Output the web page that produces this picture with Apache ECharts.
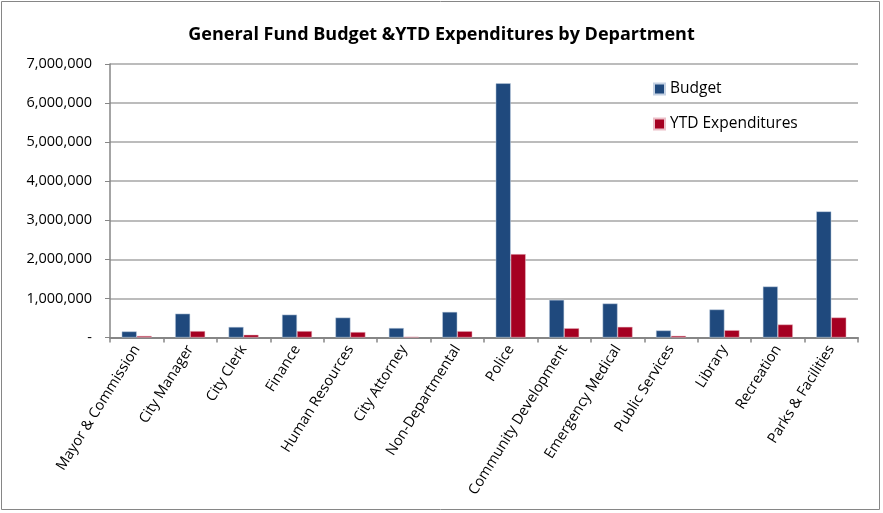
<!DOCTYPE html>
<html>
<head>
<meta charset="utf-8">
<script src="https://cdn.jsdelivr.net/npm/echarts@6/dist/echarts.min.js"></script>
<style>
html,body{margin:0;padding:0;background:#fff;}
#c{width:883px;height:513px;}
</style>
</head>
<body>
<div id="c"></div>
<script>
const categories = ["Mayor & Commission","City Manager","City Clerk","Finance","Human Resources","City Attorney","Non-Departmental","Police","Community Development","Emergency Medical","Public Services","Library","Recreation","Parks & Facilities"];
const budget = [155000, 610000, 270000, 585000, 510000, 243000, 655000, 6506000, 963000, 870000, 180000, 717000, 1305000, 3227000];
const ytdExpenditures = [40000, 165000, 70000, 165000, 140000, 20000, 162000, 2134000, 238000, 273000, 43000, 187000, 333000, 512000];
const yTicks = {min: 0, max: 7000000, interval: 1000000};

const FONT = "'Open Sans', 'Noto Sans', sans-serif";
const chart = echarts.init(document.getElementById('c'));
chart.setOption({
  animation: false,
  backgroundColor: '#fff',
  graphic: [{
    type: 'rect', shape: {x: 1.5, y: 1.5, width: 878, height: 508},
    style: {fill: 'none', stroke: '#868686', lineWidth: 1}, silent: true
  }],
  title: {
    text: 'General Fund Budget &YTD Expenditures by Department',
    left: 'center', top: 21,
    textStyle: {fontFamily: FONT, fontWeight: 'bold', fontSize: 18, color: '#000'}
  },
  legend: {
    orient: 'vertical', left: 653, top: 81, padding: 0,
    itemWidth: 11, itemHeight: 11, itemGap: 19,
    icon: 'rect',
    textStyle: {fontFamily: FONT, fontSize: 15.5, color: '#000'},
    data: ['Budget', 'YTD Expenditures']
  },
  grid: {left: 110, right: 25, top: 64, bottom: 175.5, containLabel: false},
  xAxis: {
    type: 'category', data: categories,
    axisLine: {lineStyle: {color: '#868686', width: 2}},
    axisTick: {show: true, alignWithLabel: false, length: 5, lineStyle: {color: '#868686', width: 1.5}},
    axisLabel: {rotate: 58, interval: 0, margin: 9, fontFamily: FONT, fontSize: 14.5, color: '#000'}
  },
  yAxis: {
    type: 'value', min: yTicks.min, max: yTicks.max, interval: yTicks.interval,
    axisLine: {show: true, lineStyle: {color: '#868686', width: 1.5}},
    axisTick: {show: true, length: 5, lineStyle: {color: '#868686'}},
    splitLine: {lineStyle: {color: '#a6a6a6', width: 1.5}},
    axisLabel: {
      margin: 18, fontFamily: FONT, fontSize: 14.5, color: '#000',
      formatter: v => v === 0 ? '-' : v.toLocaleString('en-US')
    }
  },
  series: [
    {name: 'Budget', type: 'bar', data: budget, barWidth: 15, barGap: '0%',
     itemStyle: {color: '#1F497D', borderColor: '#C5D2E3', borderWidth: 0.5}},
    {name: 'YTD Expenditures', type: 'bar', data: ytdExpenditures, barWidth: 15,
     itemStyle: {color: '#A50021', borderColor: '#EBBFC8', borderWidth: 0.5}}
  ]
});
</script>
</body>
</html>
